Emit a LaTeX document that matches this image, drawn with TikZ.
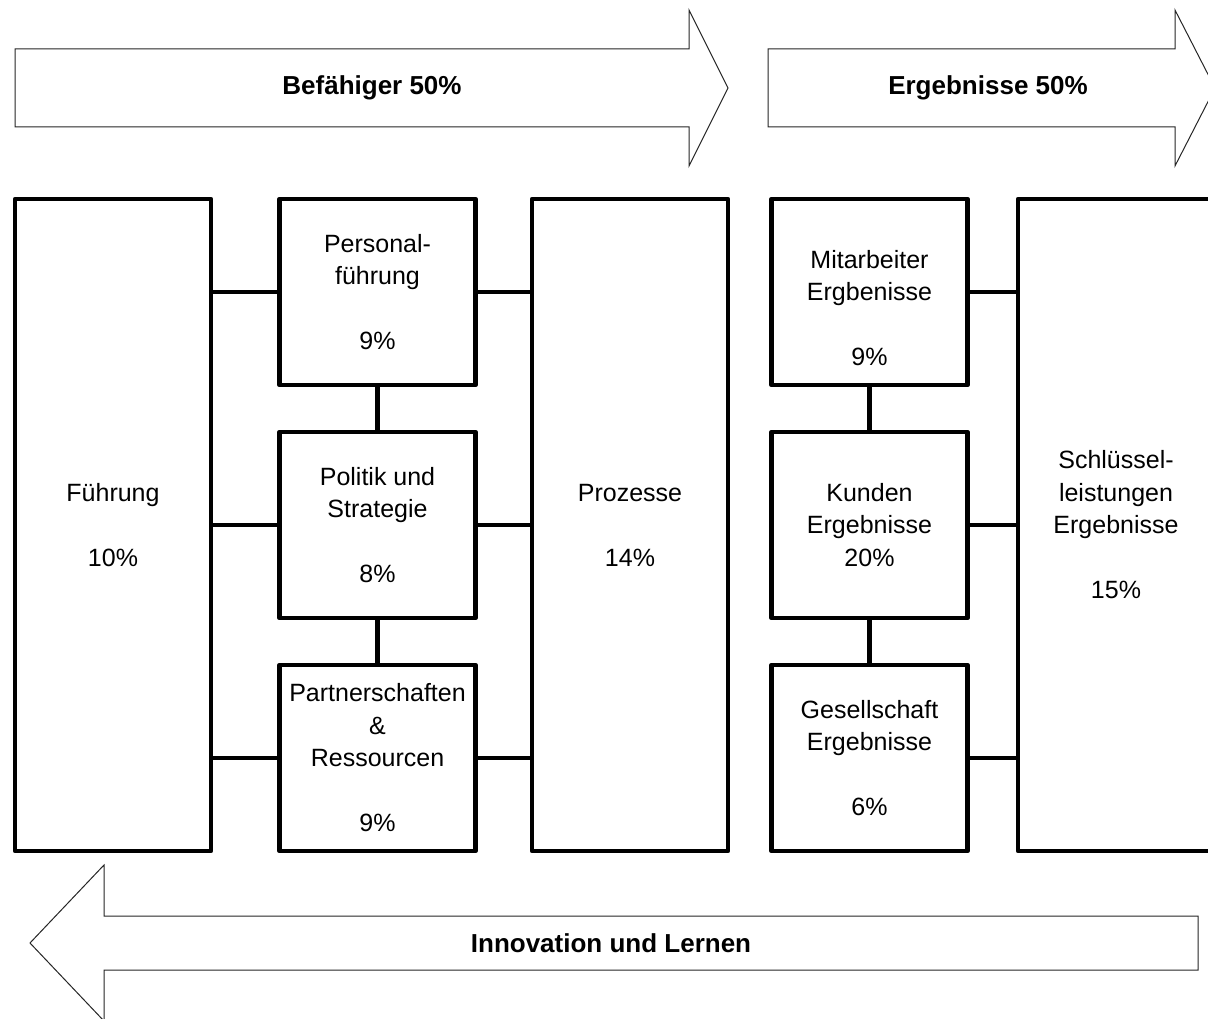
\documentclass[tikz,border=0pt]{standalone}
\usepackage{fontspec}
\setmainfont{Liberation Sans}
\begin{document}
\begin{tikzpicture}[x=1pt,y=-1pt,
  box/.style={draw, line width=4.5pt, line join=round, minimum width=196pt,
    inner sep=0pt, align=center, font=\fontsize{25}{32.5}\selectfont},
  tall/.style={box, minimum height=652pt},
  small/.style={box, minimum height=186pt},
  boxtext/.style={align=center, inner sep=0pt, font=\fontsize{25}{32.5}\selectfont},
  link/.style={line width=4.5pt},
  banner/.style={draw=black!85, line width=1pt, line join=miter, fill=white},
  bannertext/.style={font=\fontsize{26}{30}\selectfont\bfseries, inner sep=0pt}]
\useasboundingbox (0,0) rectangle (1208,1019);
\clip (0,0) rectangle (1208,1019);

% large arrows
\draw[banner] (15,49) -- (689,49) -- (689,10) -- (728,88) -- (689,166) -- (689,127) -- (15,127) -- cycle;
\node[bannertext] (befaehiger) at (372,88) {Befähiger 50\%};
\draw[banner] (768,49) -- (1175,49) -- (1175,10) -- (1215,88) -- (1175,166) -- (1175,127) -- (768,127) -- cycle;
\node[bannertext] (ergebnisse) at (988,88) {Ergebnisse 50\%};
\draw[banner] (1198,916) -- (104,916) -- (104,865) -- (30,943) -- (104,1021) -- (104,970) -- (1198,970) -- cycle;
\node[bannertext] (innovation) at (611,943) {Innovation und Lernen};

% enablers
\node[tall] (fuehrung) at (113,525) {Führung\\[32.5pt]10\%};
\node[small] (personal) at (377.5,292) {Personal-\\führung\\[32.5pt]9\%};
\node[small] (politik) at (377.5,525) {Politik und\\Strategie\\[32.5pt]8\%};
\node[small] (partner) at (377.5,758) {Partnerschaften\\\&\\Ressourcen\\[32.5pt]9\%};
\node[tall] (prozesse) at (630,525) {Prozesse\\[32.5pt]14\%};

% results
\node[small] (mitarbeiter) at (869.5,292) {};
\node[boxtext] (mitarbeitertext) at (869.5,308) {Mitarbeiter\\Ergbenisse\\[32.5pt]9\%};
\node[small] (kunden) at (869.5,525) {Kunden\\Ergebnisse\\20\%};
\node[small] (gesellschaft) at (869.5,758) {Gesellschaft\\Ergebnisse\\[32.5pt]6\%};
\node[tall] (schluessel) at (1116,525) {Schlüssel-\\leistungen\\Ergebnisse\\[32.5pt]15\%};

% connectors
\foreach \b in {personal,politik,partner}{
  \draw[link] (fuehrung.east |- \b.west) -- (\b.west);
  \draw[link] (\b.east) -- (prozesse.west |- \b.east);
}
\draw[link] (personal.south) -- (politik.north);
\draw[link] (politik.south) -- (partner.north);
\foreach \b in {mitarbeiter,kunden,gesellschaft}{
  \draw[link] (\b.east) -- (schluessel.west |- \b.east);
}
\draw[link] (mitarbeiter.south) -- (kunden.north);
\draw[link] (kunden.south) -- (gesellschaft.north);
\end{tikzpicture}
\end{document}
